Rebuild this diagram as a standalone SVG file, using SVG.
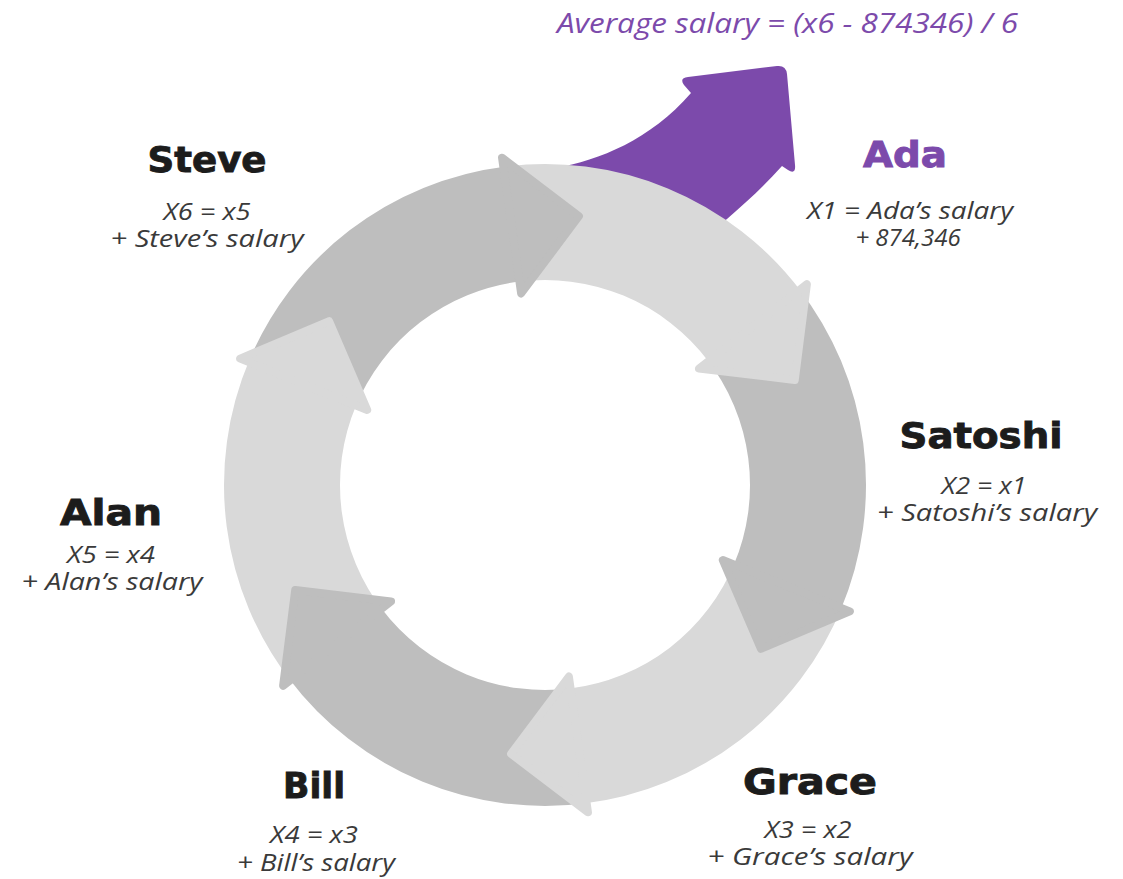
<svg xmlns="http://www.w3.org/2000/svg" xmlns:xlink="http://www.w3.org/1999/xlink" width="1123" height="879" viewBox="0 0 1123 879">
<style>
.light{fill:#d9d9d9;stroke:#d9d9d9}
.dark{fill:#bebebe;stroke:#bebebe}
.body{stroke:none}
.head{stroke-width:8;stroke-linejoin:round}
.name{font-family:"DejaVu Sans",sans-serif;font-weight:bold;font-size:35px;fill:#1c1c1c;stroke:#1c1c1c;stroke-width:0.9;text-anchor:middle}
.sub{font-family:"Open Sans",sans-serif;font-style:italic;font-size:24px;fill:#3a3a3a;text-anchor:middle}
.purple{fill:#7c4aab}
</style>
<defs>
<path id="body" d="M -277.99,-160.5 A 321 321 0 0 1 5.6,-320.95 L 3.58,-204.97 A 205 205 0 0 0 -177.54,-102.5 Z"/>
<path id="head" d="M 3,-193 L 3,-330 L 71,-261.5 Z"/>
</defs>
<rect width="1123" height="879" fill="#ffffff"/>
<g id="result-arrow">
<path class="purple" d="M 555,168 C 600,160 650,140 691,93 L 684,85 Q 679,78 688,77 L 777,66 Q 786,65 787,74 L 795,165 Q 796,175 788,170 L 782,166 C 766,184 748,201 727,219 L 640,280 Z"/>
</g>
<g id="connectors">
<g transform="translate(545,485)">
<use href="#body" class="dark body" transform="rotate(-8)"/>
<use href="#body" class="light body" transform="rotate(52)"/>
<use href="#body" class="dark body" transform="rotate(112)"/>
<use href="#body" class="light body" transform="rotate(172)"/>
<use href="#body" class="dark body" transform="rotate(232)"/>
<use href="#body" class="light body" transform="rotate(292)"/>
<use href="#head" class="dark head" transform="rotate(-8)"/>
<use href="#head" class="light head" transform="rotate(52)"/>
<use href="#head" class="dark head" transform="rotate(112)"/>
<use href="#head" class="light head" transform="rotate(172)"/>
<use href="#head" class="dark head" transform="rotate(232)"/>
<use href="#head" class="light head" transform="rotate(292)"/>
</g>
</g>
<g id="average">
<text x="557" y="33" class="purple" font-family="Open Sans, sans-serif" font-style="italic" font-size="27" textLength="461" lengthAdjust="spacingAndGlyphs">Average salary = (x6 - 874346) / 6</text>
</g>
<g id="ada">
<text x="905" y="167" class="name" style="fill:#7c4aab;stroke:#7c4aab" textLength="84" lengthAdjust="spacingAndGlyphs">Ada</text>
<text x="910" y="219" class="sub" textLength="206" lengthAdjust="spacingAndGlyphs">X1 = Ada’s salary</text>
<text x="908" y="246" class="sub">+ 874,346</text>
</g>
<g id="satoshi">
<text x="981" y="448" class="name" textLength="163" lengthAdjust="spacingAndGlyphs">Satoshi</text>
<text x="984" y="494" class="sub" textLength="85" lengthAdjust="spacingAndGlyphs">X2 = x1</text>
<text x="987" y="521" class="sub" textLength="220" lengthAdjust="spacingAndGlyphs">+ Satoshi’s salary</text>
</g>
<g id="grace">
<text x="810" y="794" class="name" textLength="134" lengthAdjust="spacingAndGlyphs">Grace</text>
<text x="808" y="838" class="sub" textLength="87" lengthAdjust="spacingAndGlyphs">X3 = x2</text>
<text x="810" y="865" class="sub" textLength="205" lengthAdjust="spacingAndGlyphs">+ Grace’s salary</text>
</g>
<g id="bill">
<text x="314" y="798" class="name" textLength="62" lengthAdjust="spacingAndGlyphs">Bill</text>
<text x="314" y="843" class="sub" textLength="88" lengthAdjust="spacingAndGlyphs">X4 = x3</text>
<text x="316" y="871" class="sub" textLength="158" lengthAdjust="spacingAndGlyphs">+ Bill’s salary</text>
</g>
<g id="alan">
<text x="111" y="525" class="name" textLength="102" lengthAdjust="spacingAndGlyphs">Alan</text>
<text x="111" y="563" class="sub" textLength="88" lengthAdjust="spacingAndGlyphs">X5 = x4</text>
<text x="112" y="590" class="sub" textLength="181" lengthAdjust="spacingAndGlyphs">+ Alan’s salary</text>
</g>
<g id="steve">
<text x="207" y="172" class="name" textLength="119" lengthAdjust="spacingAndGlyphs">Steve</text>
<text x="207" y="220" class="sub" textLength="87" lengthAdjust="spacingAndGlyphs">X6 = x5</text>
<text x="207" y="247" class="sub" textLength="193" lengthAdjust="spacingAndGlyphs">+ Steve’s salary</text>
</g>
</svg>
